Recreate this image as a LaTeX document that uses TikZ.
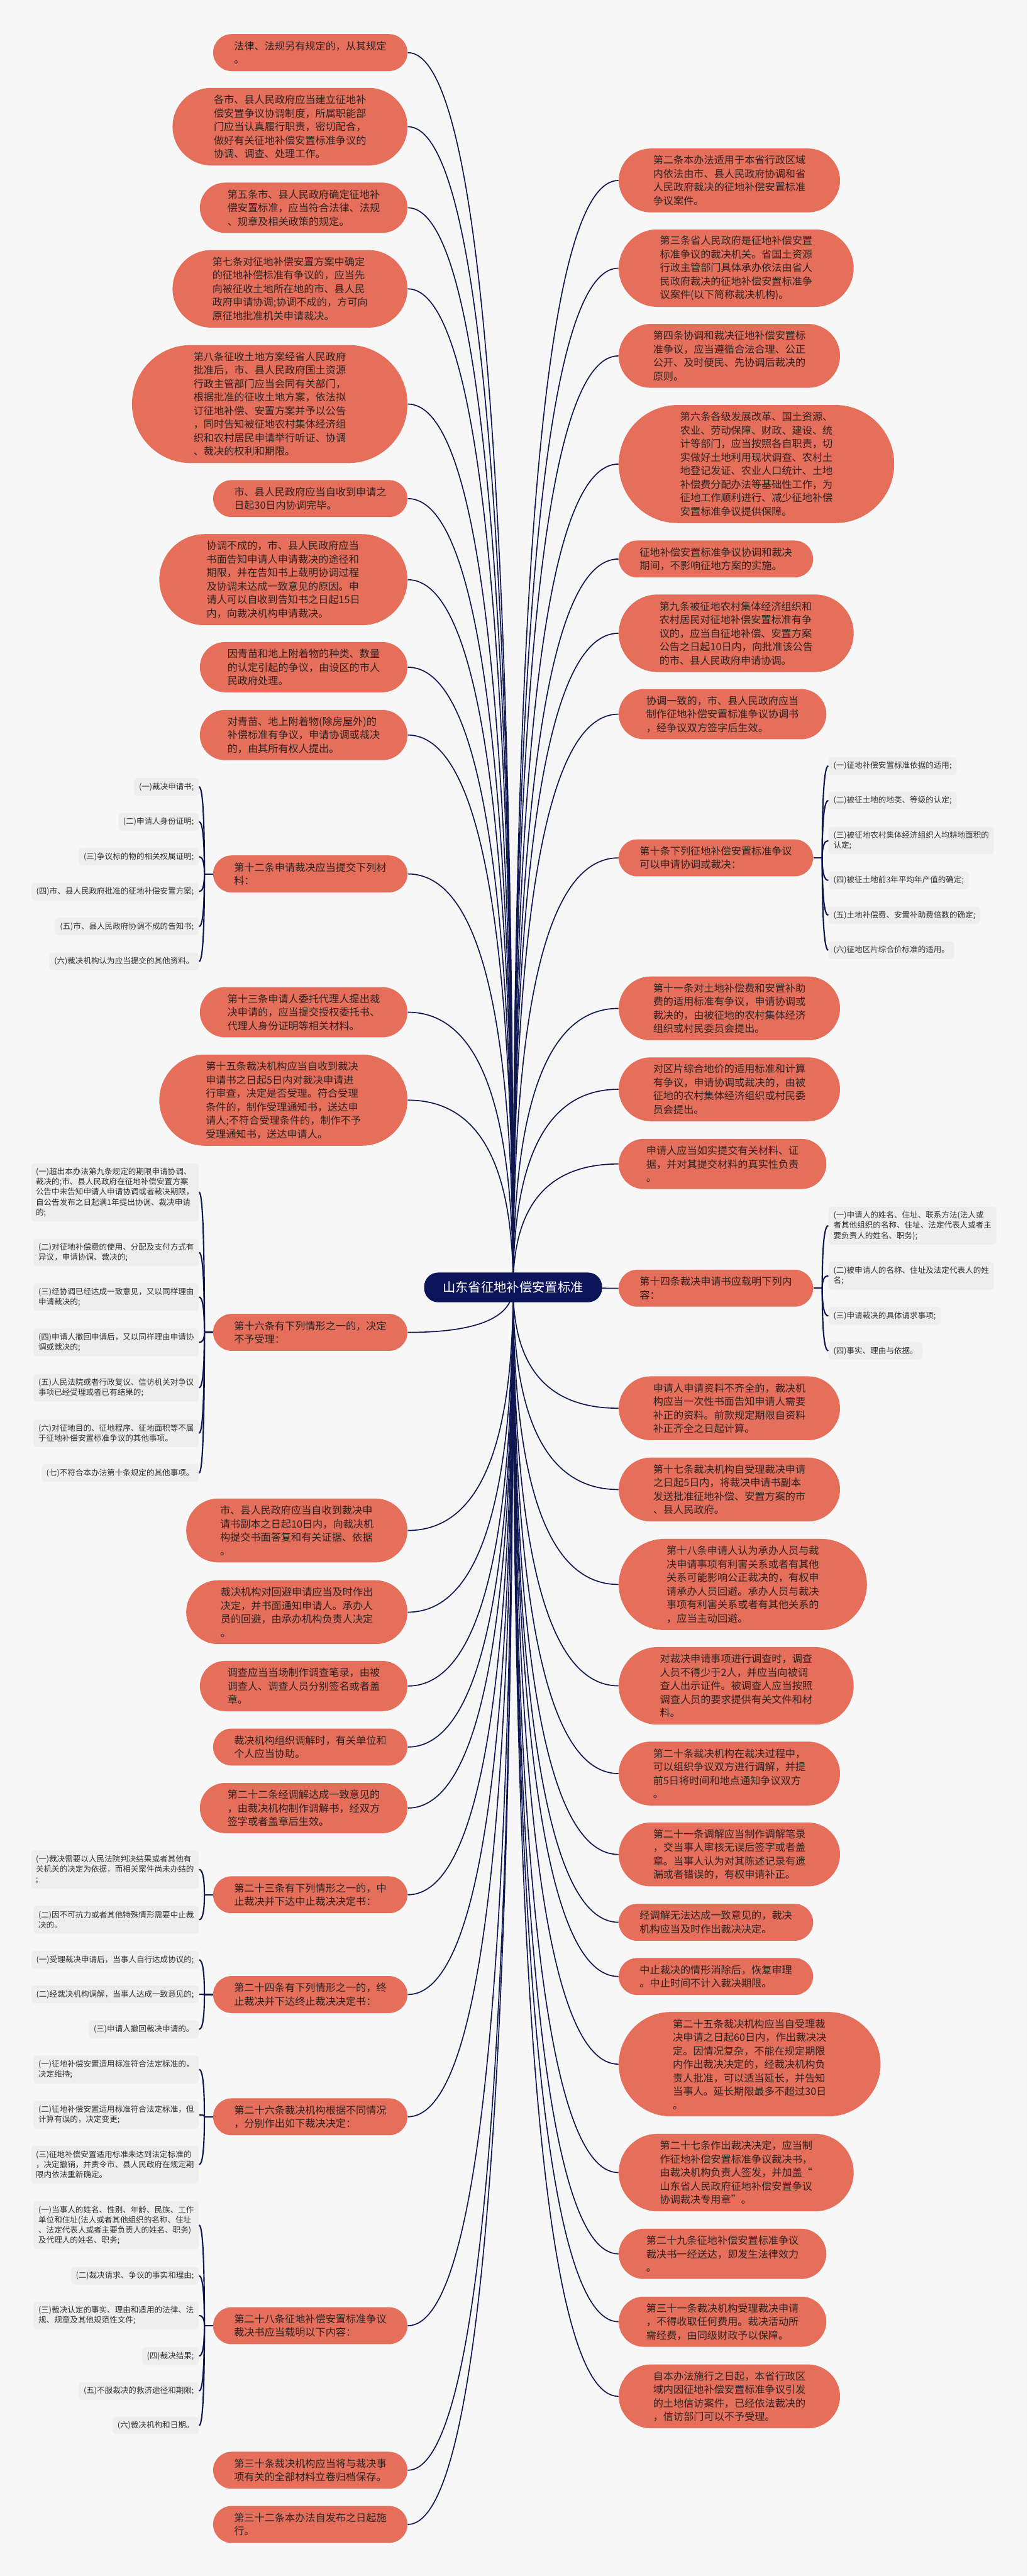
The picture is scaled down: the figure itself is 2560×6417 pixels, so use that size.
\documentclass[tikz,border=0pt]{standalone}
\usepackage{fontspec}
\newfontfamily\cjk{Noto Sans CJK SC}
\usetikzlibrary{shapes.misc,calc}
\definecolor{bgc}{RGB}{247,247,247}
\definecolor{nodeor}{RGB}{229,111,90}
\definecolor{nodetx}{RGB}{45,35,35}
\definecolor{leafbg}{RGB}{238,238,238}
\definecolor{leaftx}{RGB}{50,50,50}
\definecolor{rootc}{RGB}{12,20,90}
\definecolor{linec}{RGB}{16,22,80}
\pgfdeclarelayer{bgl}
\pgfdeclarelayer{lines}
\pgfsetlayers{bgl,lines,main}
\newcommand\mainlink[2]{\draw[mainc] (#1.#2) .. controls ($(#1.#2)!0.667!(root.center |- #1.#2)$) and ($(root.center)!0.667!(root.center |- #1.#2)$) .. (root.center);}
\newcommand\leaflink[3]{\draw[leafc] (#1.#2) .. controls ($(#1.#2)!0.667!(#3 |- #1.#2)$) and ($(#3)!0.667!(#3 |- #1.#2)$) .. (#3);}
\tikzset{
  onode/.style={shape=rounded rectangle, fill=nodeor, text=nodetx, inner sep=0pt, align=left, font=\cjk\fontsize{7.2pt}{9.58pt}\selectfont},
  lft/.style={onode, anchor=east},
  rgt/.style={onode, anchor=west},
  sz2/.style={minimum width=4.84cm, minimum height=0.92cm},
  sz3/.style={minimum width=5.17cm, minimum height=1.25cm},
  sz4/.style={minimum width=5.51cm, minimum height=1.59cm},
  sz5/.style={minimum width=5.85cm, minimum height=1.93cm},
  sz6/.style={minimum width=6.18cm, minimum height=2.27cm},
  sz7/.style={minimum width=6.52cm, minimum height=2.60cm},
  sz8/.style={minimum width=6.86cm, minimum height=2.94cm},
  leaf/.style={fill=leafbg, text=leaftx, rounded corners=0.08cm, inner xsep=0.12cm, inner ysep=0pt, align=left, font=\cjk\fontsize{5.6pt}{7.2pt}\selectfont},
  ll/.style={leaf, anchor=east},
  rl/.style={leaf, anchor=west},
  lf1/.style={minimum height=0.44cm},
  lf2/.style={minimum height=0.69cm},
  lf3/.style={minimum height=0.94cm},
  lf4/.style={minimum height=1.20cm},
  lf5/.style={minimum height=1.45cm},
  rootn/.style={fill=rootc, text=white, rounded corners=0.35cm, minimum width=4.43cm, minimum height=0.74cm, inner sep=0pt, font=\cjk\fontsize{9.05pt}{11pt}\selectfont},
  mainc/.style={draw=linec, line width=0.75pt},
  leafc/.style={draw=linec, line width=0.95pt}
}
\begin{document}
\begin{tikzpicture}[x=0.01cm, y=-0.01cm]
\begin{pgfonlayer}{bgl}
\fill[bgc] (0,0) rectangle (2560,6417);
\end{pgfonlayer}
\useasboundingbox (0,0) rectangle (2560,6417);

\node[rootn] (root) at (1278.5,3207) {山东省征地补偿安置标准};

% left column
\node[lft,sz2] (L1) at (1016,131) {法律、法规另有规定的，从其规定\\。};
\node[lft,sz5] (L2) at (1016,315.5) {各市、县人民政府应当建立征地补\\偿安置争议协调制度，所属职能部\\门应当认真履行职责，密切配合，\\做好有关征地补偿安置标准争议的\\协调、调查、处理工作。};
\node[lft,sz3] (L3) at (1016,517.5) {第五条市、县人民政府确定征地补\\偿安置标准，应当符合法律、法规\\、规章及相关政策的规定。};
\node[lft,sz5] (L4) at (1016,719.5) {第七条对征地补偿安置方案中确定\\的征地补偿标准有争议的，应当先\\向被征收土地所在地的市、县人民\\政府申请协调;协调不成的，方可向\\原征地批准机关申请裁决。};
\node[lft,sz8] (L5) at (1016,1006.5) {第八条征收土地方案经省人民政府\\批准后，市、县人民政府国土资源\\行政主管部门应当会同有关部门，\\根据批准的征收土地方案，依法拟\\订征地补偿、安置方案并予以公告\\，同时告知被征地农村集体经济组\\织和农村居民申请举行听证、协调\\、裁决的权利和期限。};
\node[lft,sz2] (L6) at (1016,1242) {市、县人民政府应当自收到申请之\\日起30日内协调完毕。};
\node[lft,sz6] (L7) at (1016,1444) {协调不成的，市、县人民政府应当\\书面告知申请人申请裁决的途径和\\期限，并在告知书上载明协调过程\\及协调未达成一致意见的原因。申\\请人可以自收到告知书之日起15日\\内，向裁决机构申请裁决。};
\node[lft,sz3] (L8) at (1016,1662) {因青苗和地上附着物的种类、数量\\的认定引起的争议，由设区的市人\\民政府处理。};
\node[lft,sz3] (L9) at (1016,1831) {对青苗、地上附着物(除房屋外)的\\补偿标准有争议，申请协调或裁决\\的，由其所有权人提出。};
\node[lft,sz2] (L10) at (1016,2177) {第十二条申请裁决应当提交下列材\\料：};
\node[lft,sz3] (L11) at (1016,2521.5) {第十三条申请人委托代理人提出裁\\决申请的，应当提交授权委托书、\\代理人身份证明等相关材料。};
\node[lft,sz6] (L12) at (1016,2740.5) {第十五条裁决机构应当自收到裁决\\申请书之日起5日内对裁决申请进\\行审查，决定是否受理。符合受理\\条件的，制作受理通知书，送达申\\请人;不符合受理条件的，制作不予\\受理通知书，送达申请人。};
\node[lft,sz2] (L13) at (1016,3319) {第十六条有下列情形之一的，决定\\不予受理：};
\node[lft,sz4] (L14) at (1016,3812.5) {市、县人民政府应当自收到裁决申\\请书副本之日起10日内，向裁决机\\构提交书面答复和有关证据、依据\\。};
\node[lft,sz4] (L15) at (1016,4016) {裁决机构对回避申请应当及时作出\\决定，并书面通知申请人。承办人\\员的回避，由承办机构负责人决定\\。};
\node[lft,sz3] (L16) at (1016,4200) {调查应当当场制作调查笔录，由被\\调查人、调查人员分别签名或者盖\\章。};
\node[lft,sz2] (L17) at (1016,4352) {裁决机构组织调解时，有关单位和\\个人应当协助。};
\node[lft,sz3] (L18) at (1016,4504) {第二十二条经调解达成一致意见的\\，由裁决机构制作调解书，经双方\\签字或者盖章后生效。};
\node[lft,sz2] (L19) at (1016,4720) {第二十三条有下列情形之一的，中\\止裁决并下达中止裁决决定书：};
\node[lft,sz2] (L20) at (1016,4968.5) {第二十四条有下列情形之一的，终\\止裁决并下达终止裁决决定书：};
\node[lft,sz2] (L21) at (1016,5273) {第二十六条裁决机构根据不同情况\\，分别作出如下裁决决定：};
\node[lft,sz2] (L22) at (1016,5793.5) {第二十八条征地补偿安置标准争议\\裁决书应当载明以下内容：};
\node[lft,sz2] (L23) at (1016,6153.5) {第三十条裁决机构应当将与裁决事\\项有关的全部材料立卷归档保存。};
\node[lft,sz2] (L24) at (1016,6288.5) {第三十二条本办法自发布之日起施\\行。};

% right column
\node[rgt,sz4] (R1) at (1541,449.5) {第二条本办法适用于本省行政区域\\内依法由市、县人民政府协调和省\\人民政府裁决的征地补偿安置标准\\争议案件。};
\node[rgt,sz5] (R2) at (1541,668) {第三条省人民政府是征地补偿安置\\标准争议的裁决机关。省国土资源\\行政主管部门具体承办依法由省人\\民政府裁决的征地补偿安置标准争\\议案件(以下简称裁决机构)。};
\node[rgt,sz4] (R3) at (1541,886.5) {第四条协调和裁决征地补偿安置标\\准争议，应当遵循合法合理、公正\\公开、及时便民、先协调后裁决的\\原则。};
\node[rgt,sz8] (R4) at (1541,1156) {第六条各级发展改革、国土资源、\\农业、劳动保障、财政、建设、统\\计等部门，应当按照各自职责，切\\实做好土地利用现状调查、农村土\\地登记发证、农业人口统计、土地\\补偿费分配办法等基础性工作，为\\征地工作顺利进行、减少征地补偿\\安置标准争议提供保障。};
\node[rgt,sz2] (R5) at (1541,1392.5) {征地补偿安置标准争议协调和裁决\\期间，不影响征地方案的实施。};
\node[rgt,sz5] (R6) at (1541,1577.5) {第九条被征地农村集体经济组织和\\农村居民对征地补偿安置标准有争\\议的，应当自征地补偿、安置方案\\公告之日起10日内，向批准该公告\\的市、县人民政府申请协调。};
\node[rgt,sz3] (R7) at (1541,1779) {协调一致的，市、县人民政府应当\\制作征地补偿安置标准争议协调书\\，经争议双方签字后生效。};
\node[rgt,sz2] (R8) at (1541,2137) {第十条下列征地补偿安置标准争议\\可以申请协调或裁决：};
\node[rgt,sz4] (R9) at (1541,2512) {第十一条对土地补偿费和安置补助\\费的适用标准有争议，申请协调或\\裁决的，由被征地的农村集体经济\\组织或村民委员会提出。};
\node[rgt,sz4] (R10) at (1541,2713.5) {对区片综合地价的适用标准和计算\\有争议，申请协调或裁决的，由被\\征地的农村集体经济组织或村民委\\员会提出。};
\node[rgt,sz3] (R11) at (1541,2899.5) {申请人应当如实提交有关材料、证\\据，并对其提交材料的真实性负责\\。};
\node[rgt,sz2] (R12) at (1541,3209) {第十四条裁决申请书应载明下列内\\容：};
\node[rgt,sz4] (R13) at (1541,3508) {申请人申请资料不齐全的，裁决机\\构应当一次性书面告知申请人需要\\补正的资料。前款规定期限自资料\\补正齐全之日起计算。};
\node[rgt,sz4] (R14) at (1541,3710.5) {第十七条裁决机构自受理裁决申请\\之日起5日内，将裁决申请书副本\\发送批准征地补偿、安置方案的市\\、县人民政府。};
\node[rgt,sz6] (R15) at (1541,3947) {第十八条申请人认为承办人员与裁\\决申请事项有利害关系或者有其他\\关系可能影响公正裁决的，有权申\\请承办人员回避。承办人员与裁决\\事项有利害关系或者有其他关系的\\，应当主动回避。};
\node[rgt,sz5] (R16) at (1541,4199.5) {对裁决申请事项进行调查时，调查\\人员不得少于2人，并应当向被调\\查人出示证件。被调查人应当按照\\调查人员的要求提供有关文件和材\\料。};
\node[rgt,sz4] (R17) at (1541,4418) {第二十条裁决机构在裁决过程中，\\可以组织争议双方进行调解，并提\\前5日将时间和地点通知争议双方\\。};
\node[rgt,sz4] (R18) at (1541,4619.5) {第二十一条调解应当制作调解笔录\\，交当事人审核无误后签字或者盖\\章。当事人认为对其陈述记录有遗\\漏或者错误的，有权申请补正。};
\node[rgt,sz2] (R19) at (1541,4788.5) {经调解无法达成一致意见的，裁决\\机构应当及时作出裁决决定。};
\node[rgt,sz2] (R20) at (1541,4923.5) {中止裁决的情形消除后，恢复审理\\。中止时间不计入裁决期限。};
\node[rgt,sz7] (R21) at (1541,5142) {第二十五条裁决机构应当自受理裁\\决申请之日起60日内，作出裁决决\\定。因情况复杂，不能在规定期限\\内作出裁决决定的，经裁决机构负\\责人批准，可以适当延长，并告知\\当事人。延长期限最多不超过30日\\。};
\node[rgt,sz5] (R22) at (1541,5412) {第二十七条作出裁决决定，应当制\\作征地补偿安置标准争议裁决书，\\由裁决机构负责人签发，并加盖“\\山东省人民政府征地补偿安置争议\\协调裁决专用章”。};
\node[rgt,sz3] (R23) at (1541,5614.5) {第二十九条征地补偿安置标准争议\\裁决书一经送达，即发生法律效力\\。};
\node[rgt,sz3] (R24) at (1541,5783.5) {第三十一条裁决机构受理裁决申请\\，不得收取任何费用。裁决活动所\\需经费，由同级财政予以保障。};
\node[rgt,sz4] (R25) at (1541,5969.5) {自本办法施行之日起，本省行政区\\域内因征地补偿安置标准争议引发\\的土地信访案件，已经依法裁决的\\，信访部门可以不予受理。};

% leaves of L10
\node[ll,lf1] (L10a) at (496,1960) {(一)裁决申请书;};
\node[ll,lf1] (L10b) at (496,2047) {(二)申请人身份证明;};
\node[ll,lf1] (L10c) at (496,2134) {(三)争议标的物的相关权属证明;};
\node[ll,lf1] (L10d) at (496,2221) {(四)市、县人民政府批准的征地补偿安置方案;};
\node[ll,lf1] (L10e) at (496,2308) {(五)市、县人民政府协调不成的告知书;};
\node[ll,lf1] (L10f) at (496,2395) {(六)裁决机构认为应当提交的其他资料。};
% leaves of L13
\node[ll,lf5] (L13a) at (496,2970) {(一)超出本办法第九条规定的期限申请协调、\\裁决的;市、县人民政府在征地补偿安置方案\\公告中未告知申请人申请协调或者裁决期限，\\自公告发布之日起满1年提出协调、裁决申请\\的;};
\node[ll,lf2] (L13b) at (496,3120) {(二)对征地补偿费的使用、分配及支付方式有\\异议，申请协调、裁决的;};
\node[ll,lf2] (L13c) at (496,3231) {(三)经协调已经达成一致意见，又以同样理由\\申请裁决的;};
\node[ll,lf2] (L13d) at (496,3344) {(四)申请人撤回申请后，又以同样理由申请协\\调或裁决的;};
\node[ll,lf2] (L13e) at (496,3457) {(五)人民法院或者行政复议、信访机关对争议\\事项已经受理或者已有结果的;};
\node[ll,lf2] (L13f) at (496,3570) {(六)对征地目的、征地程序、征地面积等不属\\于征地补偿安置标准争议的其他事项。};
\node[ll,lf1] (L13g) at (496,3669) {(七)不符合本办法第十条规定的其他事项。};
% leaves of L19
\node[ll,lf3] (L19a) at (496,4657) {(一)裁决需要以人民法院判决结果或者其他有\\关机关的决定为依据，而相关案件尚未办结的\\;};
\node[ll,lf2] (L19b) at (496,4782) {(二)因不可抗力或者其他特殊情形需要中止裁\\决的。};
% leaves of L20
\node[ll,lf1] (L20a) at (496,4882) {(一)受理裁决申请后，当事人自行达成协议的;};
\node[ll,lf1] (L20b) at (496,4968) {(二)经裁决机构调解，当事人达成一致意见的;};
\node[ll,lf1] (L20c) at (496,5055) {(三)申请人撤回裁决申请的。};
% leaves of L21
\node[ll,lf2] (L21a) at (496,5155) {(一)征地补偿安置适用标准符合法定标准的，\\决定维持;};
\node[ll,lf2] (L21b) at (496,5268) {(二)征地补偿安置适用标准符合法定标准，但\\计算有误的，决定变更;};
\node[ll,lf3] (L21c) at (496,5392) {(三)征地补偿安置适用标准未达到法定标准的\\，决定撤销，并责令市、县人民政府在规定期\\限内依法重新确定。};
% leaves of L22
\node[ll,lf4] (L22a) at (496,5543) {(一)当事人的姓名、性别、年龄、民族、工作\\单位和住址(法人或者其他组织的名称、住址\\、法定代表人或者主要负责人的姓名、职务)\\及代理人的姓名、职务;};
\node[ll,lf1] (L22b) at (496,5669) {(二)裁决请求、争议的事实和理由;};
\node[ll,lf2] (L22c) at (496,5768) {(三)裁决认定的事实、理由和适用的法律、法\\规、规章及其他规范性文件;};
\node[ll,lf1] (L22d) at (496,5869) {(四)裁决结果;};
\node[ll,lf1] (L22e) at (496,5956) {(五)不服裁决的救济途径和期限;};
\node[ll,lf1] (L22f) at (496,6042) {(六)裁决机构和日期。};
% leaves of R8
\node[rl,lf1] (R8a) at (2064,1908) {(一)征地补偿安置标准依据的适用;};
\node[rl,lf1] (R8b) at (2064,1994) {(二)被征土地的地类、等级的认定;};
\node[rl,lf2] (R8c) at (2064,2094) {(三)被征地农村集体经济组织人均耕地面积的\\认定;};
\node[rl,lf1] (R8d) at (2064,2193) {(四)被征土地前3年平均年产值的确定;};
\node[rl,lf1] (R8e) at (2064,2280) {(五)土地补偿费、安置补助费倍数的确定;};
\node[rl,lf1] (R8f) at (2064,2367) {(六)征地区片综合价标准的适用。};
% leaves of R12
\node[rl,lf3] (R12a) at (2064,3053) {(一)申请人的姓名、住址、联系方法(法人或\\者其他组织的名称、住址、法定代表人或者主\\要负责人的姓名、职务);};
\node[rl,lf2] (R12b) at (2064,3178) {(二)被申请人的名称、住址及法定代表人的姓\\名;};
\node[rl,lf1] (R12c) at (2064,3278) {(三)申请裁决的具体请求事项;};
\node[rl,lf1] (R12d) at (2064,3365) {(四)事实、理由与依据。};

\coordinate (J10) at ($(L10.west)+(-21,0)$);
\coordinate (J13) at ($(L13.west)+(-21,0)$);
\coordinate (J19) at ($(L19.west)+(-21,0)$);
\coordinate (J20) at ($(L20.west)+(-21,0)$);
\coordinate (J21) at ($(L21.west)+(-21,0)$);
\coordinate (J22) at ($(L22.west)+(-21,0)$);
\coordinate (K8) at ($(R8.east)+(22,0)$);
\coordinate (K12) at ($(R12.east)+(22,0)$);

\begin{pgfonlayer}{lines}
\foreach \i in {1,...,24} {\mainlink{L\i}{east}}
\foreach \i in {1,...,25} {\mainlink{R\i}{west}}
\draw[leafc] (L10.west) -- (J10);
\draw[leafc] (L13.west) -- (J13);
\draw[leafc] (L19.west) -- (J19);
\draw[leafc] (L20.west) -- (J20);
\draw[leafc] (L21.west) -- (J21);
\draw[leafc] (L22.west) -- (J22);
\draw[leafc] (R8.east) -- (K8);
\draw[leafc] (R12.east) -- (K12);
\foreach \s in {a,b,c,d,e,f} {\leaflink{L10\s}{east}{J10}}
\foreach \s in {a,b,c,d,e,f,g} {\leaflink{L13\s}{east}{J13}}
\foreach \s in {a,b} {\leaflink{L19\s}{east}{J19}}
\foreach \s in {a,b,c} {\leaflink{L20\s}{east}{J20}}
\foreach \s in {a,b,c} {\leaflink{L21\s}{east}{J21}}
\foreach \s in {a,b,c,d,e,f} {\leaflink{L22\s}{east}{J22}}
\foreach \s in {a,b,c,d,e,f} {\leaflink{R8\s}{west}{K8}}
\foreach \s in {a,b,c,d} {\leaflink{R12\s}{west}{K12}}
\end{pgfonlayer}
\end{tikzpicture}
\end{document}
